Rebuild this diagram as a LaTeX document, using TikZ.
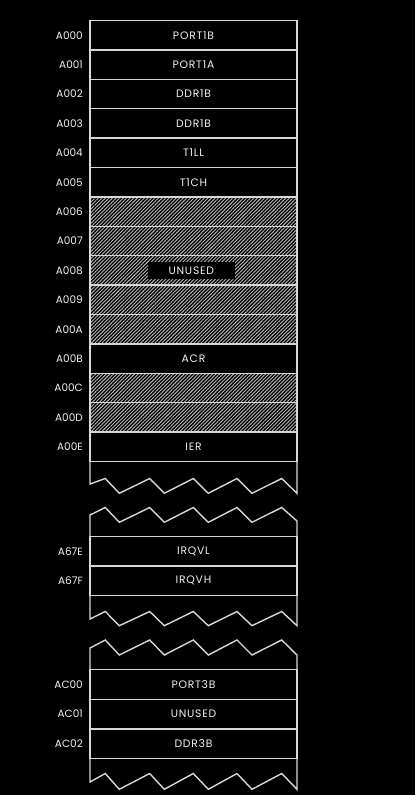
\documentclass[tikz,border=0pt]{standalone}
\usepackage{fontspec}
\setmainfont{Poppins}
\newfontfamily\cellfont[LetterSpace=7]{Poppins}
\usetikzlibrary{patterns.meta}
\definecolor{ln}{RGB}{215,215,215}
\definecolor{tx}{RGB}{240,240,240}
\definecolor{ht}{RGB}{185,185,185}
\newcommand\zzp[4]{(90,#1) -- (105.3,#2) -- (119.3,#3) -- (149.7,#2) -- (164.3,#3) -- (193.3,#2) -- (208.3,#3) -- (237,#2) -- (252,#3) -- (281.7,#2) -- (297,#4)}
\tikzset{
  txt/.style={text=tx, font=\cellfont\fontsize{10.8}{12}\selectfont},
  cell/.style={txt, draw=ln, line width=1.4pt, minimum width=207pt, minimum height=29.4pt, inner sep=0pt, outer sep=0pt},
  hatch/.style={cell, pattern={Lines[angle=45,distance=2.5pt,line width=0.9pt]}, pattern color=ht},
  addr/.style={text=tx, font=\fontsize{10.5}{12}\selectfont, anchor=east, inner sep=0pt},
  zz/.style={draw=ln, line width=1.4pt, line join=miter},
  blank/.style={txt, fill=black, minimum width=87pt, minimum height=17.6pt, inner sep=0pt}
}
\begin{document}
\begin{tikzpicture}[x=1pt,y=-1pt]
\fill[black] (0,0) rectangle (415,795);
\useasboundingbox (0,0) rectangle (415,795);
% section 1
\node[cell]  (r0)  at (193.5,35.2)  {PORT1B};
\node[cell]  (r1)  at (193.5,64.6)  {PORT1A};
\node[cell]  (r2)  at (193.5,94.0)  {DDR1B};
\node[cell]  (r3)  at (193.5,123.4) {DDR1B};
\node[cell]  (r4)  at (193.5,152.8) {T1LL};
\node[cell]  (r5)  at (193.5,182.2) {T1CH};
\node[hatch] (r6)  at (193.5,211.6) {};
\node[hatch] (r7)  at (193.5,241.0) {};
\node[hatch] (r8)  at (193.5,270.4) {};
\node[hatch] (r9)  at (193.5,299.8) {};
\node[hatch] (r10) at (193.5,329.2) {};
\node[cell]  (r11) at (193.5,358.6) {ACR};
\node[hatch] (r12) at (193.5,388.0) {};
\node[hatch] (r13) at (193.5,417.4) {};
\node[cell]  (r14) at (193.5,446.8) {IER};
\node[blank] (un) at (191.3,270.5) {UNUSED};
\node[addr] (a0)  at (83,35.2)  {A000};
\node[addr] (a1)  at (83,64.6)  {A001};
\node[addr] (a2)  at (83,94.0)  {A002};
\node[addr] (a3)  at (83,123.4) {A003};
\node[addr] (a4)  at (83,152.8) {A004};
\node[addr] (a5)  at (83,182.2) {A005};
\node[addr] (a6)  at (83,211.6) {A006};
\node[addr] (a7)  at (83,241.0) {A007};
\node[addr] (a8)  at (83,270.4) {A008};
\node[addr] (a9)  at (83,299.8) {A009};
\node[addr] (a10) at (83,329.2) {A00A};
\node[addr] (a11) at (83,358.6) {A00B};
\node[addr] (a12) at (83,388.0) {A00C};
\node[addr] (a13) at (83,417.4) {A00D};
\node[addr] (a14) at (83,446.8) {A00E};
\draw[zz] (r14.south west) -- \zzp{484}{478.5}{493.3}{493.3} -- (r14.south east);
% section 2
\node[cell, minimum height=29.5pt] (s0) at (193.5,551.2) {IRQVL};
\node[cell, minimum height=29.5pt] (s1) at (193.5,580.7) {IRQVH};
\node[addr] (b0) at (83,551.2) {A67E};
\node[addr] (b1) at (83,580.7) {A67F};
\draw[zz] (s0.north west) -- \zzp{515}{507.5}{522.3}{521} -- (s0.north east);
\draw[zz] (s1.south west) -- \zzp{619}{611.5}{625.7}{625.7} -- (s1.south east);
% section 3
\node[cell, minimum height=29.7pt] (t0) at (193.5,684.4) {PORT3B};
\node[cell, minimum height=29.7pt] (t1) at (193.5,714.1) {UNUSED};
\node[cell, minimum height=29.7pt] (t2) at (193.5,743.8) {DDR3B};
\node[addr] (c0) at (83,684.4) {AC00};
\node[addr] (c1) at (83,714.1) {AC01};
\node[addr] (c2) at (83,743.8) {AC02};
\draw[zz] (t0.north west) -- \zzp{648}{640}{655}{655} -- (t0.north east);
\draw[zz] (t2.south west) -- \zzp{782}{773.5}{789.3}{789.3} -- (t2.south east);
\end{tikzpicture}
\end{document}
